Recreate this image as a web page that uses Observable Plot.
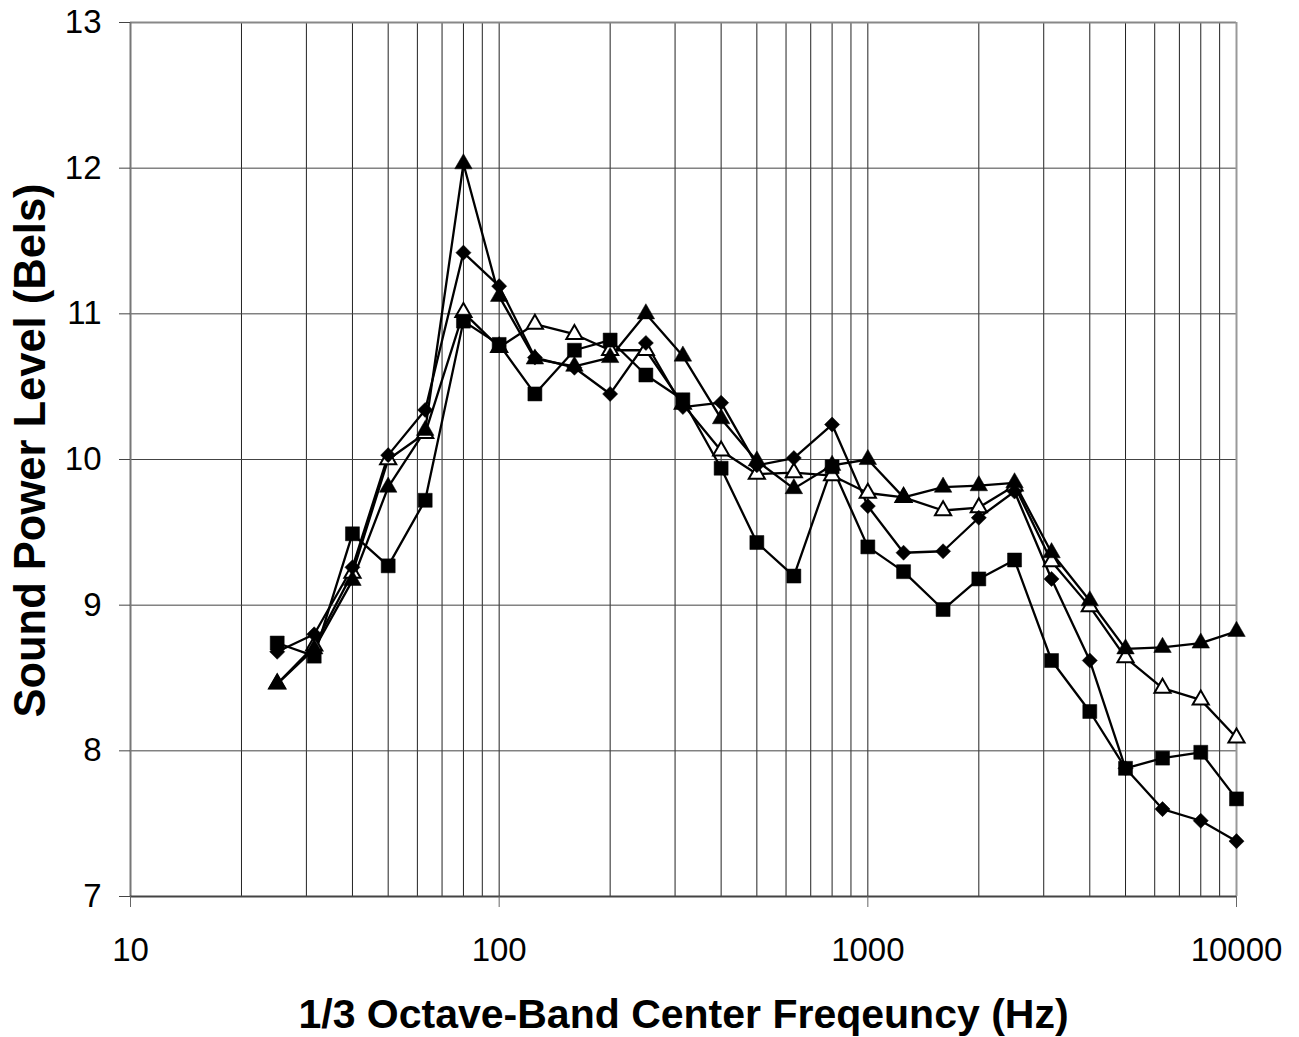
<!DOCTYPE html>
<html><head><meta charset="utf-8">
<script src="https://cdn.jsdelivr.net/npm/d3@7"></script>
<script src="https://cdn.jsdelivr.net/npm/@observablehq/plot@0.6"></script>
<style>
body{margin:0;background:#fff}
svg{font-family: Arial, "Liberation Sans", sans-serif}
</style>
</head><body><div id="chart"></div>
<script>
const freqs = [25,31.5,40,50,63,80,100,125,160,200,250,315,400,500,630,800,1000,1250,1600,2000,2500,3150,4000,5000,6300,8000,10000];
const diamondSeries = [8.68,8.80,9.26,10.03,10.34,11.42,11.19,10.70,10.63,10.45,10.80,10.36,10.39,9.96,10.01,10.24,9.68,9.36,9.37,9.60,9.78,9.18,8.62,7.88,7.60,7.52,7.38];
const squareSeries = [8.74,8.65,9.49,9.27,9.72,10.95,10.79,10.45,10.75,10.82,10.58,10.41,9.94,9.43,9.20,9.95,9.40,9.23,8.97,9.18,9.31,8.62,8.27,7.88,7.95,7.99,7.67];
const filledTriSeries = [8.46,8.70,9.17,9.81,10.20,12.03,11.12,10.69,10.64,10.70,11.00,10.71,10.28,9.99,9.80,9.96,10.00,9.74,9.81,9.82,9.84,9.36,9.03,8.70,8.71,8.74,8.82];
const openTriSeries = [8.46,8.72,9.22,10.00,10.18,11.01,10.77,10.93,10.86,10.75,10.75,10.38,10.06,9.90,9.91,9.89,9.77,9.74,9.65,9.67,9.82,9.30,8.99,8.64,8.43,8.35,8.09];
const xTicks = [10,100,1000,10000];
const yTicks = [7,8,9,10,11,12,13];
const xGrid = [20,30,40,50,60,70,80,90,100,200,300,400,500,600,700,800,900,1000,2000,3000,4000,5000,6000,7000,8000,9000];
const yGrid = [8,9,10,11,12];
const xTitle = "1/3 Octave-Band Center Freqeuncy (Hz)";
const yTitle = "Sound Power Level (Bels)";

const series = [
  {name:"openTri", symbol:"triangle", fill:"white", r:6.0, values: openTriSeries},
  {name:"diamond", symbol:"diamond2", fill:"black", r:6.8, values: diamondSeries},
  {name:"square", symbol:"square", fill:"black", r:7.9, values: squareSeries},
  {name:"filledTri", symbol:"triangle", fill:"black", r:6.5, values: filledTriSeries}
];
const rows = s => freqs.map((f,i)=>({f, v:s.values[i]}));

const marks = [
  Plot.ruleX(xGrid, {stroke:"#222", strokeWidth:1}),
  Plot.ruleY(yGrid, {stroke:"#444", strokeWidth:1}),
  Plot.ruleY([13], {stroke:"#888", strokeWidth:2}),
  Plot.ruleX([10000], {stroke:"#999", strokeWidth:2}),
  Plot.ruleX([10], {stroke:"#777", strokeWidth:2}),
  Plot.ruleY([7], {stroke:"#444", strokeWidth:2}),
  Plot.axisX({ticks:xTicks, tickFormat:d=>String(d), tickSize:11, tickPadding:30, fontSize:33, label:null, stroke:"#666"}),
  Plot.axisY({ticks:yTicks, tickFormat:d=>String(d), tickSize:11, tickPadding:18, fontSize:33, label:null, stroke:"#444"}),
];
for (const s of series) {
  marks.push(Plot.line(rows(s), {x:"f", y:"v", stroke:"black", strokeWidth:2.3}));
}
for (const s of series) {
  marks.push(Plot.dot(rows(s), {x:"f", y:"v", symbol:()=>s.symbol, r:s.r, fill:s.fill, stroke:"black", strokeWidth: s.fill==="white"?2:0.5}));
}
marks.push(Plot.text([xTitle], {frameAnchor:"bottom", dy:118, textAnchor:"middle", lineAnchor:"middle", fontSize:41, fontWeight:"bold", fill:"black"}));
marks.push(Plot.text([yTitle], {frameAnchor:"left", dx:-99, dy:-9, rotate:-90, textAnchor:"middle", lineAnchor:"middle", fontSize:43.5, fontWeight:"bold", fill:"black"}));

const chart = Plot.plot({
  width:1299, height:1037,
  marginLeft:130, marginRight:63, marginTop:22, marginBottom:141,
  style:{background:"white", color:"black", fontFamily:"Arial, 'Liberation Sans', sans-serif", overflow:"visible"},
  x:{type:"log", domain:[10,10000]},
  y:{domain:[7,13]},
  symbol:{type:"identity"},
  marks
});
document.getElementById("chart").appendChild(chart);
</script>
</body></html>
